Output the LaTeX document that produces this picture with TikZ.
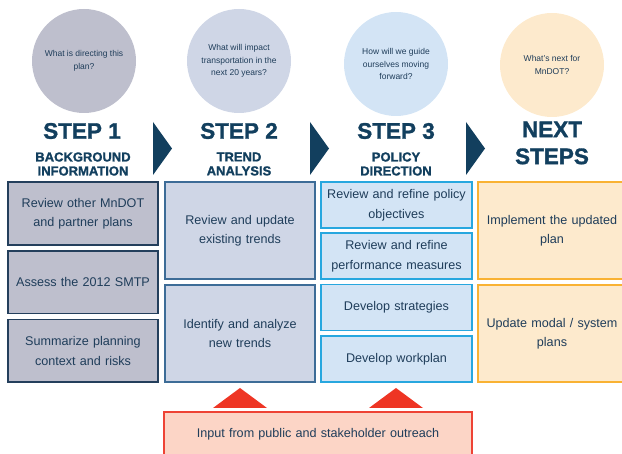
\documentclass[tikz,border=0pt]{standalone}
\usepackage{fontspec}
\setmainfont{Liberation Sans}
\newfontfamily\heavyfont{Liberation Sans}[BoldFeatures={FakeBold=1.4}]
\usetikzlibrary{positioning}
\definecolor{navy}{HTML}{123F5E}
\definecolor{ink}{HTML}{1F3D5A}
\definecolor{grayfill}{HTML}{BEBFCD}
\definecolor{grayline}{HTML}{243F5C}
\definecolor{slatefill}{HTML}{CFD6E6}
\definecolor{slateline}{HTML}{3D6C97}
\definecolor{skyfill}{HTML}{D3E4F5}
\definecolor{skyline}{HTML}{27A7DF}
\definecolor{sandfill}{HTML}{FDEACD}
\definecolor{sandline}{HTML}{F9B233}
\definecolor{salmonfill}{HTML}{FCD5C6}
\definecolor{salmonline}{HTML}{EE4335}
\definecolor{redtip}{HTML}{EE3524}

\begin{document}
\begin{tikzpicture}[x=1pt,y=-1pt,node distance=6pt,
  every node/.style={text=ink,align=center},
  bubble/.style={circle,minimum size=104pt,inner sep=0pt,font=\fontsize{8.5}{12.5}\selectfont},
  steptitle/.style={text=navy,font=\fontsize{22.5}{27}\heavyfont\bfseries},
  stepsub/.style={text=navy,font=\fontsize{13}{14}\heavyfont\bfseries},
  task/.style={draw,line width=1.6pt,outer sep=0pt,inner sep=0pt,font=\fontsize{12.6}{19.5}\selectfont},
  bgbox/.style={task,fill=grayfill,draw=grayline,text width=150pt,minimum height=62.7pt},
  trendbox/.style={task,fill=slatefill,draw=slateline,text width=150pt,minimum height=97pt},
  policybox/.style={task,fill=skyfill,draw=skyline,text width=151pt,minimum height=46pt},
  nextbox/.style={task,fill=sandfill,draw=sandline,text width=148pt,minimum height=97pt}]
  \useasboundingbox (0,0) rectangle (622,454);

  % questions
  \node[bubble,fill=grayfill] (q1) at (84,61) {What is directing this\\plan?};
  \node[bubble,fill=slatefill] (q2) at (239,61) {What will impact\\transportation in the\\next 20 years?};
  \node[bubble,fill=skyfill] (q3) at (396,64) {How will we guide\\ourselves moving\\forward?};
  \node[bubble,fill=sandfill] (q4) at (552,65) {What's next for\\MnDOT?};

  % titles
  \node[steptitle] (s1) at (82,131) {STEP 1};
  \node[steptitle] (s2) at (239,131) {STEP 2};
  \node[steptitle] (s3) at (396,131) {STEP 3};
  \node[steptitle] (s4) at (552,143) {NEXT\\STEPS};
  \node[stepsub] (t1) at (83,164) {BACKGROUND\\INFORMATION};
  \node[stepsub] (t2) at (239,164) {TREND\\ANALYSIS};
  \node[stepsub] (t3) at (396,164) {POLICY\\DIRECTION};

  \foreach \x in {153,310,466}
    \fill[navy] (\x,122) -- (\x+19,148.5) -- (\x,175) -- cycle;

  % step 1
  \node[bgbox] (b11) at (83,213.5) {Review other MnDOT\\and partner plans};
  \node[bgbox] (b12) [below=of b11] {Assess the 2012 SMTP};
  \node[bgbox] (b13) [below=of b12] {Summarize planning\\context and risks};

  % step 2
  \node[trendbox] (b21) at (240,230.5) {Review and update\\existing trends};
  \node[trendbox] (b22) [below=of b21] {Identify and analyze\\new trends};

  % step 3
  \node[policybox] (b31) at (396.5,205) {Review and refine policy\\objectives};
  \node[policybox] (b32) [below=5.3pt of b31] {Review and refine\\performance measures};
  \node[policybox] (b33) [below=5.3pt of b32] {Develop strategies};
  \node[policybox] (b34) [below=5.3pt of b33] {Develop workplan};

  % next steps
  \node[nextbox] (b41) at (552,230.5) {Implement the updated\\plan};
  \node[nextbox] (b42) [below=of b41] {Update modal / system\\plans};

  % outreach
  \node[task,fill=salmonfill,draw=salmonline,text width=308pt,minimum height=44pt] (input) at (318,434)
    {Input from public and stakeholder outreach};
  \foreach \x in {240,396}
    \fill[redtip] (\x-27,408) -- (\x,388) -- (\x+27,408) -- cycle;
\end{tikzpicture}
\end{document}
